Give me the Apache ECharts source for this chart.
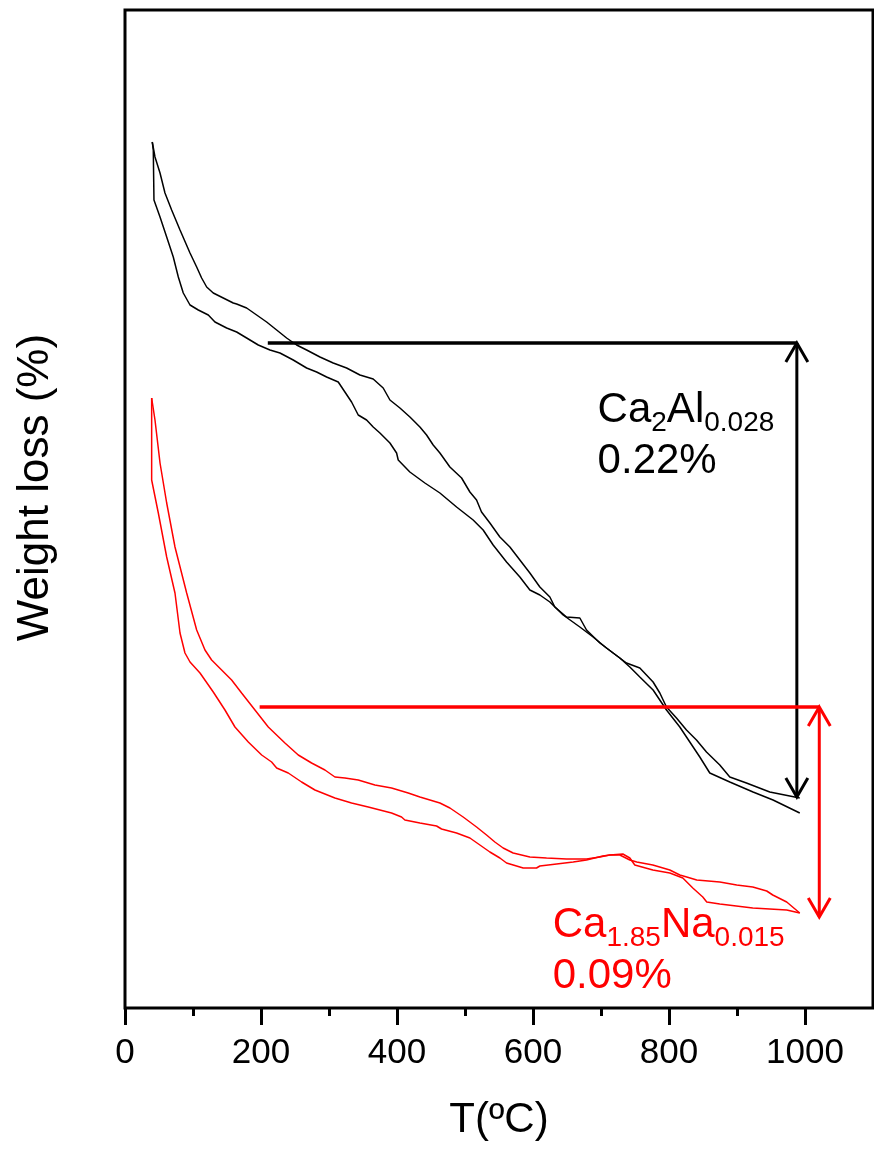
<!DOCTYPE html>
<html>
<head>
<meta charset="utf-8">
<script src="https://cdn.jsdelivr.net/npm/echarts@6/dist/echarts.min.js"></script>
<style>
  html, body { margin: 0; padding: 0; background: #fff; }
  #chart { width: 874px; height: 1153px; }
</style>
</head>
<body>
<div id="chart"></div>
<script>
// TGA curves, [T (degC), relative weight]
var ca2AlUpper = [
  [40.1, 86.6], [44.1, 85.1], [51.5, 83.5], [58.8, 81.5], [68.6, 79.8], [80.9, 77.8], [95.6, 75.5],
  [105.4, 74.1], [112.7, 73.0], [120.1, 72.1], [129.8, 71.5], [144.5, 71.0], [159.2, 70.5], [164.2, 70.4],
  [178.9, 70.0], [193.6, 69.3], [208.3, 68.6], [223.0, 67.8], [237.7, 67.0], [252.4, 66.3], [267.1, 65.8],
  [286.7, 65.1], [306.2, 64.5], [325.9, 64.0], [345.5, 63.3], [365.0, 62.9], [379.7, 62.0], [389.6, 60.8],
  [404.3, 60.0], [419.0, 59.1], [433.7, 58.1], [443.5, 57.3], [453.2, 56.3], [463.1, 55.5], [477.8, 54.1],
  [495.0, 53.0], [507.2, 51.6], [517.0, 50.8], [524.3, 49.6], [536.6, 48.5], [551.3, 47.1], [566.0, 46.1],
  [580.7, 44.8], [595.4, 43.5], [610.1, 42.1], [624.8, 41.1], [632.1, 40.1], [649.3, 39.1], [668.9, 39.0],
  [678.7, 37.8], [698.3, 36.5], [717.8, 35.5], [737.5, 34.5], [757.1, 34.0], [776.6, 32.6], [786.5, 31.5],
  [796.3, 30.1], [811.0, 29.0], [825.7, 27.8], [840.4, 26.8], [855.1, 25.6], [874.7, 24.3], [889.4, 23.1],
  [913.9, 22.5], [948.2, 21.6], [992.3, 21.0]
];
var ca2AlLower = [
  [40.1, 86.6], [41.6, 85.8], [42.6, 80.8], [51.5, 79.1], [61.3, 77.1], [71.0, 75.1], [78.4, 73.1],
  [85.7, 71.5], [95.6, 70.3], [107.8, 69.8], [122.5, 69.3], [132.3, 68.6], [149.5, 68.0], [164.2, 67.6],
  [178.9, 67.0], [196.0, 66.3], [213.2, 65.8], [227.9, 65.5], [247.4, 64.8], [267.1, 64.0], [281.8, 63.6],
  [296.5, 63.1], [313.6, 62.6], [323.4, 61.6], [333.2, 60.6], [343.0, 59.3], [355.3, 58.8], [365.0, 58.1],
  [374.9, 57.5], [389.6, 56.5], [399.4, 55.5], [401.8, 54.8], [418.9, 53.6], [441.0, 52.5], [463.1, 51.5],
  [487.6, 50.1], [512.0, 48.8], [526.7, 47.8], [541.4, 46.3], [561.1, 44.6], [580.7, 43.1], [595.4, 41.8],
  [610.1, 41.3], [624.8, 40.6], [644.3, 39.3], [668.9, 38.1], [688.4, 37.1], [708.1, 36.0], [727.7, 35.0],
  [742.4, 34.1], [757.1, 33.1], [776.6, 31.8], [796.3, 29.8], [815.9, 28.1], [830.6, 26.6], [845.3, 25.1],
  [860.0, 23.5], [889.4, 22.6], [923.6, 21.6], [953.0, 20.8], [992.3, 19.5]
];
var caNaUpper = [
  [39.2, 61.0], [44.1, 58.8], [51.5, 54.5], [61.3, 50.5], [73.5, 46.1], [90.7, 41.5], [105.4, 37.8],
  [117.6, 35.8], [127.4, 34.8], [142.1, 33.8], [156.8, 32.8], [171.5, 31.5], [191.1, 29.8], [210.7, 28.1],
  [235.2, 26.5], [254.8, 25.3], [274.4, 24.5], [294.0, 23.8], [308.7, 23.1], [323.4, 23.0], [343.0, 22.8],
  [367.5, 22.3], [392.0, 22.0], [416.5, 21.5], [433.7, 21.1], [463.1, 20.5], [477.8, 20.0], [497.3, 19.1],
  [517.0, 18.1], [531.7, 17.3], [543.9, 16.6], [556.1, 16.0], [570.8, 15.5], [595.4, 15.1], [619.9, 15.0],
  [649.3, 14.9], [678.7, 14.9], [698.3, 15.1], [713.0, 15.3], [727.7, 15.3], [742.4, 14.8], [752.6, 14.6],
  [776.2, 14.3], [801.2, 13.8], [815.9, 13.3], [826.1, 13.1], [840.8, 12.8], [874.7, 12.6], [899.6, 12.3],
  [923.2, 12.1], [943.7, 11.7], [952.6, 11.3], [973.1, 10.6], [992.3, 9.5]
];
var caNaLower = [
  [39.2, 61.0], [39.2, 55.0], [39.2, 52.8], [49.0, 49.5], [61.3, 45.1], [73.5, 41.5], [80.9, 37.5],
  [88.2, 35.5], [95.6, 34.6], [110.3, 33.5], [129.8, 31.6], [147.0, 29.8], [161.7, 28.1], [181.3, 26.6],
  [201.0, 25.3], [215.6, 24.6], [223.0, 24.0], [240.1, 23.5], [259.7, 22.6], [279.3, 21.8], [308.7, 21.0],
  [333.2, 20.5], [357.7, 20.1], [392.0, 19.5], [406.7, 19.1], [411.6, 18.8], [433.7, 18.5], [458.2, 18.2],
  [465.5, 17.9], [487.6, 17.5], [507.2, 17.0], [521.9, 16.3], [536.6, 15.6], [551.3, 15.0], [561.1, 14.5],
  [585.6, 14.0], [605.2, 14.0], [610.1, 14.2], [634.7, 14.4], [659.1, 14.6], [678.7, 14.8], [702.7, 15.2],
  [713.0, 15.3], [732.1, 15.4], [742.4, 15.0], [749.7, 14.3], [776.2, 13.8], [801.2, 13.5], [820.3, 13.0],
  [835.0, 12.0], [849.7, 11.1], [855.5, 10.6], [874.7, 10.4], [923.2, 10.0], [973.1, 9.8], [992.3, 9.5]
];

// weight-step markers: arrow temperature, line start, top and bottom level
var stepT = [988, 1021];
var stepStart = [210, 198];
var stepTop = [66.5, 30.1];
var stepBottom = [21.1, 9.1];
var stepLoss = ['0.22%', '0.09%'];
var stepFormula = ['{m|Ca}{s|2}{m|Al}{s|0.028}', '{m|Ca}{s|1.85}{m|Na}{s|0.015}'];

var xTickLabels = [0, 200, 400, 600, 800, 1000];
var xMinorTicks = [100, 300, 500, 700, 900];

var FONT = 'Liberation Sans, Arial, Helvetica, sans-serif';
var BLACK = '#000000';
var RED = '#ff0000';
var stepColors = [BLACK, RED];
var labelPos = [[695, 61.9], [629, 10.4]];

var stepData = stepT.map(function (t, i) {
  return [t, stepStart[i], stepTop[i], stepBottom[i], labelPos[i][0], labelPos[i][1]];
});

var chart = echarts.init(document.getElementById('chart'), null, { renderer: 'canvas' });

function curve(data, color) {
  return {
    type: 'line',
    data: data,
    symbol: 'none',
    showSymbol: false,
    lineStyle: { color: color, width: 1.5 },
    itemStyle: { color: color },
    animation: false,
    z: 2
  };
}

function renderStep(params, api) {
  var i = params.dataIndex;
  var color = stepColors[i];
  var tip = api.coord([api.value(0), api.value(2)]);
  var end = api.coord([api.value(0), api.value(3)]);
  var start = api.coord([api.value(1), api.value(2)]);
  var lab = api.coord([api.value(4), api.value(5)]);
  var hw = 11, hl = 19;
  var stroke = { stroke: color, lineWidth: 3, fill: null, lineJoin: 'miter' };
  return {
    type: 'group',
    children: [
      { type: 'line', shape: { x1: start[0], y1: tip[1], x2: tip[0], y2: tip[1] },
        style: { stroke: color, lineWidth: 3.5 } },
      { type: 'line', shape: { x1: tip[0], y1: tip[1], x2: end[0], y2: end[1] }, style: stroke },
      { type: 'polyline', shape: { points: [[tip[0] - hw, tip[1] + hl], [tip[0], tip[1]], [tip[0] + hw, tip[1] + hl]] },
        style: stroke },
      { type: 'polyline', shape: { points: [[end[0] - hw, end[1] - hl], [end[0], end[1]], [end[0] + hw, end[1] - hl]] },
        style: stroke },
      { type: 'text', x: lab[0], y: lab[1],
        style: {
          text: stepFormula[i] + '\n{m|' + stepLoss[i] + '}',
          fill: color,
          fontFamily: FONT,
          align: 'left',
          verticalAlign: 'top',
          rich: {
            m: { fontSize: 42, lineHeight: 51, verticalAlign: 'top', fontFamily: FONT, fill: color },
            s: { fontSize: 28, lineHeight: 30, verticalAlign: 'top', padding: [20, 0, 0, 0], fontFamily: FONT, fill: color }
          }
        } }
    ]
  };
}

var option = {
  animation: false,
  backgroundColor: '#ffffff',
  grid: {
    left: 125, right: 1, top: 10, bottom: 145,
    show: true, borderColor: BLACK, borderWidth: 3, backgroundColor: 'transparent'
  },
  xAxis: [
    {
      type: 'value', min: 0, max: 1100, position: 'bottom',
      name: 'T(ºC)', nameLocation: 'middle', nameGap: 91,
      nameTextStyle: { fontSize: 42, color: BLACK, fontFamily: FONT },
      axisLine: { show: false },
      axisTick: { show: true, customValues: xMinorTicks, length: 8, lineStyle: { color: BLACK, width: 3 } },
      axisLabel: {
        customValues: xTickLabels, fontSize: 35, color: BLACK, fontFamily: FONT, margin: 28,
        formatter: function (v) { return String(v); }
      },
      splitLine: { show: false }
    },
    {
      type: 'value', min: 0, max: 1100, position: 'bottom',
      axisLine: { show: false },
      axisTick: { show: true, customValues: xTickLabels, length: 17, lineStyle: { color: BLACK, width: 3 } },
      axisLabel: { show: false },
      splitLine: { show: false }
    }
  ],
  yAxis: {
    type: 'value', min: 0, max: 99.8,
    name: 'Weight loss (%)', nameLocation: 'middle', nameGap: 67,
    nameTextStyle: { fontSize: 44, color: BLACK, fontFamily: FONT, padding: [0, 0, 0, 43] },
    axisLine: { show: false },
    axisTick: { show: false },
    axisLabel: { show: false },
    splitLine: { show: false }
  },
  series: [
    curve(ca2AlUpper, BLACK),
    curve(ca2AlLower, BLACK),
    curve(caNaUpper, RED),
    curve(caNaLower, RED),
    {
      type: 'custom',
      renderItem: renderStep,
      data: stepData,
      encode: { x: [0, 1, 4], y: [2, 3, 5] },
      clip: false,
      z: 5,
      animation: false
    }
  ]
};

chart.setOption(option);
window.addEventListener('resize', function () {
  chart.resize();
});
</script>
</body>
</html>
